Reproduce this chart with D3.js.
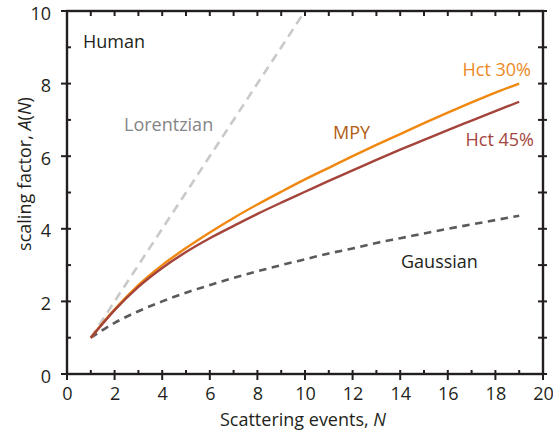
<!DOCTYPE html>
<html><head><meta charset="utf-8">
<script src="https://cdn.jsdelivr.net/npm/d3@7/dist/d3.min.js"></script>
<style>body{margin:0;background:#fff}svg{display:block}text{font-family:"Open Sans","Noto Sans",sans-serif}</style>
</head><body>
<script>
const N = [1,2,3,4,5,6,7,8,9,10,11,12,13,14,15,16,17,18,19];
const hct30 = [1,1.78,2.45,3.0,3.47,3.9,4.3,4.67,5.02,5.36,5.68,6.0,6.31,6.61,6.91,7.2,7.48,7.75,8.0];
const hct45 = [1,1.76,2.4,2.92,3.36,3.74,4.08,4.41,4.72,5.02,5.32,5.61,5.9,6.18,6.45,6.72,6.98,7.24,7.5];
const gaussian = [1,1.41,1.73,2,2.24,2.45,2.65,2.83,3,3.16,3.32,3.46,3.61,3.74,3.87,4,4.12,4.24,4.36];
const lorentzN = [1,10];
const lorentzA = [1,10];
const xTicks = [0,2,4,6,8,10,12,14,16,18,20];
const yTicks = [0,2,4,6,8,10];

const W=553,H=435;
const svg=d3.select("body").append("svg").attr("width",W).attr("height",H);
const x=d3.scaleLinear().domain([0,20]).range([67,543]);
const y=d3.scaleLinear().domain([0,10]).range([374,11]);
const ink="#231f20";
const FS=18;

const line=(xs,ys)=>d3.line().x((d,i)=>x(xs[i])).y((d,i)=>y(ys[i]))(xs);
const smooth=(xs,ys)=>d3.line().curve(d3.curveMonotoneX).x((d,i)=>x(xs[i])).y((d,i)=>y(ys[i]))(xs);

// curves
svg.append("path").attr("d",line(lorentzN,lorentzA)).attr("fill","none").attr("stroke","#c9c9c9").attr("stroke-width",2.6).attr("stroke-dasharray","9,6");
svg.append("path").attr("d",smooth(N,gaussian)).attr("fill","none").attr("stroke","#5a5a5c").attr("stroke-width",2.6).attr("stroke-dasharray","7.5,5.5");
svg.append("path").attr("d",smooth(N,hct30)).attr("fill","none").attr("stroke","#f0870f").attr("stroke-width",2.4);
svg.append("path").attr("d",smooth(N,hct45)).attr("fill","none").attr("stroke","#a4443a").attr("stroke-width",2.4);

// frame
svg.append("rect").attr("x",x(0)).attr("y",y(10)).attr("width",x(20)-x(0)).attr("height",y(0)-y(10)).attr("fill","none").attr("stroke",ink).attr("stroke-width",2.4);

// ticks
const ints=d3.range(0,21), yints=d3.range(0,11);
const g=svg.append("g").attr("stroke",ink).attr("stroke-width",2);
ints.forEach(v=>{
  const major=v%2===0;
  g.append("line").attr("x1",x(v)).attr("x2",x(v)).attr("y1",major?y(0)+6:y(0)).attr("y2",y(0)-4);
  g.append("line").attr("x1",x(v)).attr("x2",x(v)).attr("y1",y(10)).attr("y2",y(10)+5);
});
yints.forEach(v=>{
  const major=v%2===0;
  g.append("line").attr("y1",y(v)).attr("y2",y(v)).attr("x1",major?x(0)-6:x(0)).attr("x2",x(0)+4);
  g.append("line").attr("y1",y(v)).attr("y2",y(v)).attr("x1",x(20)-5).attr("x2",x(20)+4);
});

// tick labels via axes
const xa=svg.append("g").attr("transform",`translate(0,${y(0)})`).call(d3.axisBottom(x).tickValues(xTicks).tickSize(0).tickPadding(13).tickFormat(d3.format("d")));
xa.select(".domain").remove();
xa.selectAll("text").attr("font-size",FS).attr("fill",ink).attr("font-family","Open Sans");
const ya=svg.append("g").attr("transform",`translate(${x(0)},0)`).call(d3.axisLeft(y).tickValues(yTicks).tickSize(0).tickPadding(16).tickFormat(d3.format("d")));
ya.select(".domain").remove();
ya.selectAll("text").attr("font-size",FS).attr("fill",ink).attr("font-family","Open Sans").attr("dy","0.45em");

// axis titles
const xt=svg.append("text").attr("x",x(10)-2).attr("y",426).attr("text-anchor","middle").attr("font-size",FS).attr("fill",ink);
xt.append("tspan").text("Scattering events, ");
xt.append("tspan").attr("font-style","italic").text("N");
const yt=svg.append("text").attr("transform",`translate(31,174) rotate(-90)`).attr("text-anchor","middle").attr("font-size",FS).attr("fill",ink);
yt.append("tspan").text("scaling factor, ");
yt.append("tspan").attr("font-style","italic").text("A");
yt.append("tspan").text("(");
yt.append("tspan").attr("font-style","italic").text("N");
yt.append("tspan").text(")");

// annotations
const ann=(t,xx,yy,c,anchor)=>svg.append("text").attr("x",xx).attr("y",yy).attr("font-size",FS).attr("fill",c).attr("text-anchor",anchor||"start").text(t);
ann("Human",83,48,ink);
ann("Lorentzian",124,131,"#858586");
ann("MPY",333,139,"#b05c12");
ann("Hct 30%",531,76,"#ec8a1f","end");
ann("Hct 45%",534,146,"#a4463d","end");
ann("Gaussian",401,268,ink);
</script>
</body></html>
